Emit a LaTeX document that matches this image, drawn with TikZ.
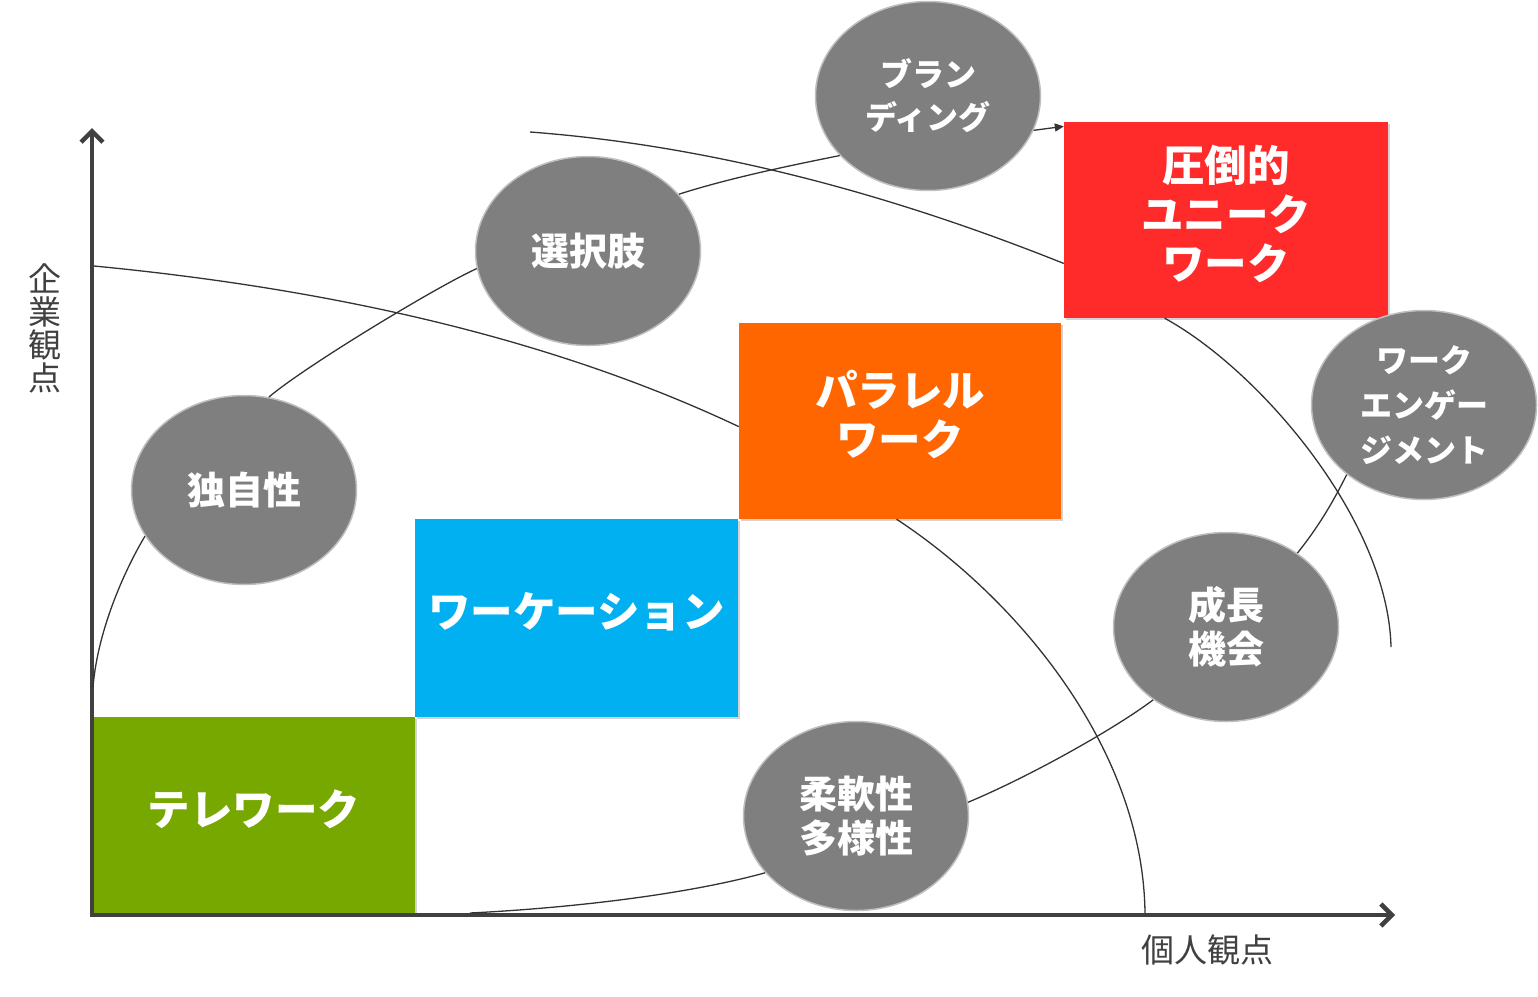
\documentclass[tikz,border=0pt]{standalone}
\usepackage{fontspec}
\newfontfamily\jp{Noto Sans CJK JP}
\usetikzlibrary{arrows.meta,shapes.geometric,shadows}
\definecolor{axisgray}{HTML}{404040}
\definecolor{ellgray}{HTML}{7F7F7F}
\definecolor{ellborder}{HTML}{BFBFBF}
\definecolor{cgreen}{HTML}{76A800}
\definecolor{cblue}{HTML}{00B0F0}
\definecolor{corange}{HTML}{FF6600}
\definecolor{cred}{HTML}{FF2A2A}
\definecolor{linegray}{HTML}{333333}
\newcommand{\liftbox}{\rule[-16pt]{0pt}{16pt}}
\begin{document}
\begin{tikzpicture}[x=1pt,y=-1pt,
  box/.style={rectangle, inner sep=0pt, text=white, align=center,
    font=\jp\bfseries\fontsize{42.5}{49}\selectfont,
    drop shadow={shadow xshift=2pt, shadow yshift=-2pt, opacity=0.35}},
  bubble/.style={ellipse, fill=ellgray, draw=ellborder, line width=1.5pt, inner sep=0pt,
    text=white, align=center, minimum width=225pt, minimum height=189pt},
  big/.style={font=\jp\bfseries\fontsize{38}{44}\selectfont},
  small/.style={font=\jp\bfseries\fontsize{32}{43}\selectfont},
  conn/.style={draw=linegray, line width=1.3pt},
  axisline/.style={draw=axisgray, line width=4.5pt},
  axislabel/.style={text=axisgray, font=\jp\fontsize{33}{33}\selectfont, align=center, inner sep=0pt}
]
\useasboundingbox (0,0) rectangle (1538,996);

% coordinates
\coordinate (ytop) at (92,128);
\coordinate (origin) at (92,915);
\coordinate (xend) at (1395,915);
\coordinate (g1s) at (93,687);
\coordinate (g2s) at (470,913);
\coordinate (a1s) at (94,266);
\coordinate (a1e) at (1145,913);
\coordinate (a2s) at (530,132);
\coordinate (a2e) at (1391,647);

% boxes
\node[box, fill=cgreen, minimum width=322pt, minimum height=198pt] (tele) at (254,816) {テレワーク\liftbox};
\node[box, fill=cblue, minimum width=323pt, minimum height=198pt] (wcat) at (576.5,618) {ワーケーション\liftbox};
\node[box, fill=corange, minimum width=322pt, minimum height=196pt] (para) at (900,421) {パラレル\\ワーク\liftbox};
\node[box, fill=cred, minimum width=324pt, minimum height=196pt] (uniq) at (1226,220) {圧倒的\\ユニーク\\ワーク\liftbox};

% bubbles
\node[bubble, small] (brand) at (928,96) {ブラン\\ディング};
\node[bubble, big] (choice) at (588,251) {選択肢};
\node[bubble, big] (orig) at (244,490) {独自性};
\node[bubble, big] (flex) at (856,816) {柔軟性\\多様性};
\node[bubble, big] (grow) at (1226,627) {成長\\機会};
\node[bubble, font=\jp\bfseries\fontsize{32}{45}\selectfont] (engage) at (1424,405) {ワーク\\エンゲー\\ジメント};

% axis
\draw[axisline, {Straight Barb[length=11pt,width=22pt]}-{Straight Barb[length=11pt,width=22pt]}] (ytop) -- (origin) -- (xend);
\node[axislabel] (xlab) at (1207,950) {個人観点};
\node[axislabel] (ylab) at (45,328) {企\\業\\観\\点};

% growth curve (upper)
\draw[conn] (g1s) .. controls +(5,-60) and +(-18,30) .. (orig.205);
\draw[conn] (orig.75) .. controls +(35,-30) and +(-40,18) .. (choice.189);
\draw[conn] (choice.32) .. controls +(50,-16) and +(-50,10) .. (brand.214);
\draw[conn, -{Triangle[length=9pt,width=8pt]}] (brand.-18) -- (uniq.150);

% growth curve (lower)
\draw[conn] (g2s) .. controls +(100,-5) and +(-80,22) .. (flex.212);
\draw[conn] (flex.7) .. controls +(60,-25) and +(-40,30) .. (grow.225);
\draw[conn] (grow.46) .. controls +(20,-25) and +(-15,30) .. (engage.222);

% arcs
\draw[conn] (a1s) .. controls +(249,24) and +(-180,-85) .. (para.182);
\draw[conn] (para.268) .. controls +(123,81) and +(-2,-163) .. (a1e);
\draw[conn] (a2s) .. controls +(200,15) and +(-150,-60) .. (uniq.195);
\draw[conn] (uniq.238) .. controls +(95,52) and +(-3,-127) .. (a2e);
\end{tikzpicture}
\end{document}
